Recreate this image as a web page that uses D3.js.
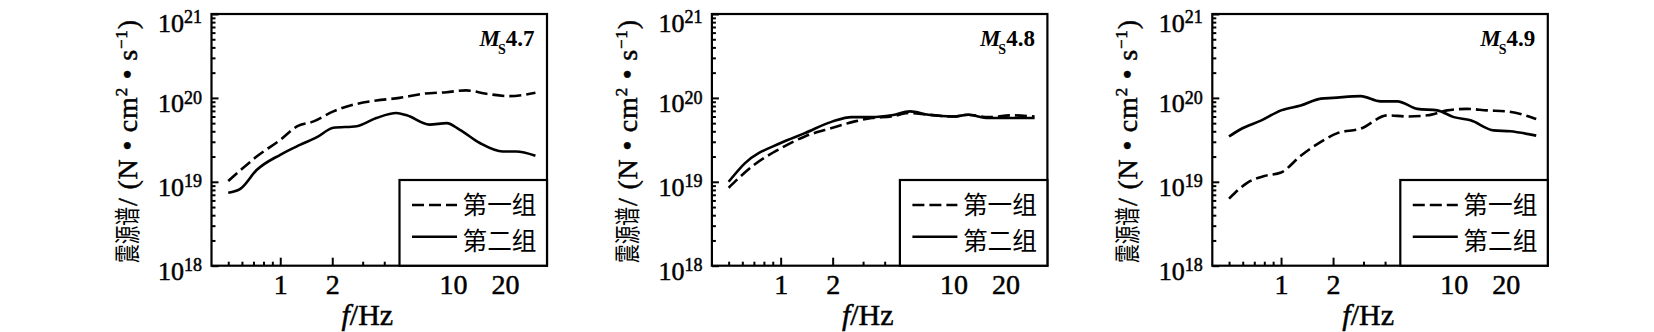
<!DOCTYPE html>
<html><head><meta charset="utf-8">
<script src="https://cdn.jsdelivr.net/npm/d3@7"></script>
<style>html,body{margin:0;padding:0;background:#fff;}svg{display:block;}</style>
</head><body>
<script>
// ---------- data ----------
const magnitudes = ["4.7", "4.8", "4.9"];
const seriesNames = ["第一组", "第二组"];
const xMajorTicks = [1, 2, 10, 20];
const xMinorTicks = [0.5, 0.6, 0.7, 0.8, 0.9, 3, 4, 5, 6, 7, 8, 9, 30];
const yMajorExponents = [18, 19, 20, 21];

// Ms4.7
const f1a = [0.5, 0.59, 0.73, 1.0, 1.25, 1.56, 2.03, 2.65, 3.6, 4.9, 6.7, 9.2, 11.9, 15.6, 21.2, 30];
const s1a = [1.02e19, 1.38e19, 2.0e19, 3.16e19, 4.57e19, 5.25e19, 6.9e19, 8.3e19, 9.3e19, 1.0e20, 1.12e20, 1.17e20, 1.23e20, 1.12e20, 1.05e20, 1.15e20];
const f1b = [0.5, 0.59, 0.73, 1.0, 1.3, 1.63, 2.03, 2.77, 3.6, 4.7, 5.4, 7.3, 9.2, 10.9, 14.3, 19.4, 23.2, 30];
const s1b = [7.4e18, 8.3e18, 1.38e19, 2.1e19, 2.75e19, 3.4e19, 4.4e19, 4.6e19, 5.75e19, 6.6e19, 6.2e19, 4.8e19, 5.0e19, 4.2e19, 2.9e19, 2.3e19, 2.3e19, 2.05e19];
// Ms4.8
const f2a = [0.5, 0.57, 0.71, 1.0, 1.38, 2.0, 2.69, 3.37, 4.39, 5.49, 7.16, 10, 12.2, 15.9, 21.7, 29.5];
const s2a = [8.5e18, 1.1e19, 1.62e19, 2.5e19, 3.47e19, 4.4e19, 5.25e19, 5.75e19, 6.0e19, 6.6e19, 6.3e19, 6.0e19, 6.3e19, 5.9e19, 6.2e19, 6.0e19];
const f2b = [0.5, 0.62, 1.0, 1.38, 2.0, 2.58, 3.37, 4.39, 5.61, 7.16, 10, 12.2, 15.9, 21.7, 29.5];
const s2b = [1.0e19, 1.66e19, 2.9e19, 3.8e19, 5.25e19, 5.9e19, 5.9e19, 6.2e19, 6.9e19, 6.3e19, 6.0e19, 6.3e19, 5.75e19, 5.75e19, 5.75e19];
// Ms4.9
const f3a = [0.5, 0.64, 0.8, 1.0, 1.3, 1.7, 2.12, 2.89, 4.13, 5.38, 7.03, 9.15, 11.9, 15.6, 20.3, 30];
const s3a = [6.3e18, 9.8e18, 1.17e19, 1.29e19, 2.04e19, 3.0e19, 3.8e19, 4.3e19, 6.2e19, 6.0e19, 6.2e19, 7.1e19, 7.4e19, 7.1e19, 6.9e19, 5.6e19];
const f3b = [0.5, 0.58, 0.77, 1.0, 1.3, 1.7, 2.0, 2.89, 3.77, 4.71, 6.15, 8.03, 10, 12.5, 17, 21.2, 30];
const s3b = [3.47e19, 4.2e19, 5.4e19, 7.1e19, 8.1e19, 9.8e19, 1.0e20, 1.05e20, 9.1e19, 9.1e19, 7.4e19, 7.1e19, 5.9e19, 5.4e19, 4.1e19, 4.0e19, 3.55e19];

const panels = [
  {mag: magnitudes[0], a: [f1a, s1a], b: [f1b, s1b]},
  {mag: magnitudes[1], a: [f2a, s2a], b: [f2b, s2b]},
  {mag: magnitudes[2], a: [f3a, s3a], b: [f3b, s3b]},
];

// ---------- layout ----------
const W = 1654, H = 332;
const serif = "'Liberation Serif','Times New Roman',serif";
const cjk = "'Noto Sans CJK SC','Noto Sans CJK JP',sans-serif";
const plotTop = 14, plotBottom = 265.7, pw = 335.5;
const heavy = sel => sel.attr("stroke", "#000").attr("stroke-width", 0.5);

const svg = d3.select("body").append("svg").attr("width", W).attr("height", H);
svg.append("rect").attr("width", W).attr("height", H).attr("fill", "#fff");

const y = d3.scaleLog().domain([1e18, 1e21]).range([plotBottom, plotTop]);
const yMinor = [];
[18, 19, 20].forEach(e => { for (let m = 2; m <= 9; m++) yMinor.push(m * Math.pow(10, e)); });

panels.forEach((p, i) => {
  const left = 211.5 + i * 500.4;
  const right = left + pw;
  const x = d3.scaleLog().domain([0.4, 35]).range([left, right]);
  const g = svg.append("g");

  // ticks (inward)
  const gxMaj = g.append("g").attr("transform", `translate(0,${plotBottom})`)
    .call(d3.axisBottom(x).tickValues(xMajorTicks).tickSize(-8).tickFormat(d3.format("d")));
  const gxMin = g.append("g").attr("transform", `translate(0,${plotBottom})`)
    .call(d3.axisBottom(x).tickValues(xMinorTicks).tickSize(-4).tickFormat(""));
  const gyMaj = g.append("g").attr("transform", `translate(${left},0)`)
    .call(d3.axisLeft(y).tickValues(yMajorExponents.map(e => Math.pow(10, e))).tickSize(-7).tickFormat(""));
  const gyMin = g.append("g").attr("transform", `translate(${left},0)`)
    .call(d3.axisLeft(y).tickValues(yMinor).tickSize(-4).tickFormat(""));
  [gxMaj, gxMin, gyMaj, gyMin].forEach(a => {
    a.select(".domain").remove();
    a.selectAll(".tick line").attr("stroke", "#000").attr("stroke-width", 2);
  });
  gxMaj.selectAll(".tick text")
    .attr("y", 28).attr("dy", 0)
    .attr("font-family", serif).attr("font-size", 28).attr("fill", "#000")
    .call(heavy);

  // y tick labels 10^n
  yMajorExponents.forEach(e => {
    const yy = y(Math.pow(10, e));
    const t = g.append("text")
      .attr("x", left - 9.5).attr("y", Math.max(yy + 14, 31.7))
      .attr("text-anchor", "end").attr("font-family", serif).attr("font-size", 26).attr("fill", "#000")
      .call(heavy);
    t.append("tspan").text("10");
    t.append("tspan").attr("dy", -8.4).attr("font-size", 18).text(String(e));
  });

  // lines
  const line = d3.line().x(d => x(d[0])).y(d => y(d[1])).curve(d3.curveMonotoneX);
  const pa = p.a[0].map((f, k) => [f, p.a[1][k]]);
  const pb = p.b[0].map((f, k) => [f, p.b[1][k]]);
  g.append("path").attr("d", line(pa)).attr("fill", "none").attr("stroke", "#000")
    .attr("stroke-width", 2.6).attr("stroke-dasharray", "12,5");
  g.append("path").attr("d", line(pb)).attr("fill", "none").attr("stroke", "#000")
    .attr("stroke-width", 2.6);

  // frame
  g.append("rect").attr("x", left).attr("y", plotTop).attr("width", pw).attr("height", plotBottom - plotTop)
    .attr("fill", "none").attr("stroke", "#000").attr("stroke-width", 2.2);

  // legend
  const lx = left + 188;
  g.append("rect").attr("x", lx).attr("y", 180).attr("width", right - lx).attr("height", plotBottom - 180)
    .attr("fill", "#fff").attr("stroke", "#000").attr("stroke-width", 2.2);
  const rows = [{y: 205, dash: "12,5", ty: 213.5}, {y: 236.7, dash: null, ty: 250}];
  rows.forEach((r, k) => {
    const ln = g.append("line").attr("x1", left + 200.5).attr("x2", left + 245.5)
      .attr("y1", r.y).attr("y2", r.y).attr("stroke", "#000").attr("stroke-width", 2.6);
    if (r.dash) ln.attr("stroke-dasharray", r.dash);
    g.append("text").attr("x", left + 251).attr("y", r.ty)
      .attr("font-family", cjk).attr("font-size", 24.5).attr("fill", "#000")
      .attr("textLength", 74).attr("lengthAdjust", "spacingAndGlyphs").text(seriesNames[k]);
  });

  // magnitude label
  const mt = g.append("text").attr("x", right - 12.5).attr("y", 46).attr("text-anchor", "end")
    .attr("font-family", serif).attr("font-size", 23).attr("font-weight", "bold").attr("fill", "#000");
  mt.append("tspan").attr("font-style", "italic").text("M");
  mt.append("tspan").attr("font-size", 14).attr("dy", 8).attr("dx", -2).text("S");
  mt.append("tspan").attr("dy", -8).text(p.mag);

  // x title
  const xt = g.append("text").attr("x", left + 130).attr("y", 325)
    .attr("font-family", serif).attr("font-size", 30).attr("fill", "#000").call(heavy);
  xt.append("tspan").attr("font-style", "italic").text("f");
  xt.append("tspan").text("/Hz");

  // y title (rotated)
  const yl = g.append("g").attr("transform", `translate(${left - 75},263) rotate(-90)`);
  yl.append("text").attr("x", 0).attr("y", 0)
    .attr("font-family", cjk).attr("font-size", 26).attr("fill", "#000")
    .attr("textLength", 56).attr("lengthAdjust", "spacingAndGlyphs").text("震源谱");
  const lt = yl.append("text").attr("x", 57).attr("y", 0)
    .attr("font-family", serif).attr("font-size", 28).attr("fill", "#000")
    .attr("textLength", 186).attr("lengthAdjust", "spacing").call(heavy);
  lt.append("tspan").text("/ (N • cm");
  lt.append("tspan").attr("dy", -10).attr("font-size", 17).text("2");
  lt.append("tspan").attr("dy", 10).text(" • s");
  lt.append("tspan").attr("dy", -10).attr("font-size", 17).text("−1");
  lt.append("tspan").attr("dy", 10).text(")");
});
</script>
</body></html>
